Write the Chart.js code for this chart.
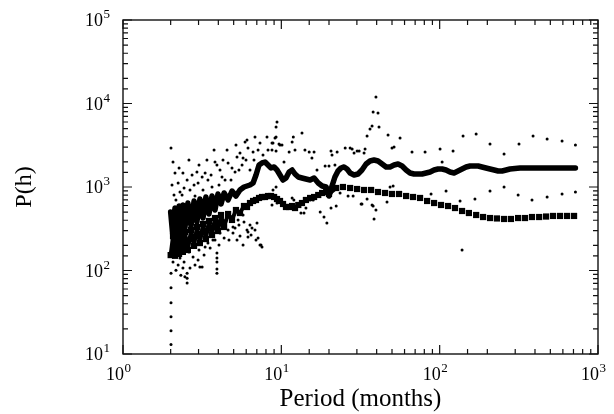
<!DOCTYPE html>
<html>
<head>
<meta charset="utf-8">
<script src="https://cdn.jsdelivr.net/npm/chart.js@4.4.1/dist/chart.umd.min.js"></script>
<style>
  html, body { margin: 0; padding: 0; background: #fff; }
  #wrap { width: 614px; height: 414px; }
</style>
</head>
<body>
<div id="wrap"><canvas id="spectrum" width="614" height="414"></canvas></div>
<script>
// thick solid curve
const upperPeriods = [2.0, 2.07, 2.13, 2.19, 2.26, 2.32, 2.39, 2.46, 2.57, 2.69, 2.81, 2.93, 3.06, 3.20, 3.34,
  3.49, 3.65, 3.81, 3.98, 4.16, 4.35, 4.61, 4.88, 5.17, 5.48, 5.81, 6.07, 6.34, 6.63, 6.92,
  7.23, 7.55, 7.89, 8.24, 8.61, 9.0, 9.39, 9.81, 10.25, 10.7, 11.2, 11.7, 12.2, 12.8, 13.5,
  14.3, 15.2, 16.1, 17.1, 18.1, 19.2, 20.0, 20.9, 21.8, 22.8, 23.8, 24.9, 26.0, 27.2, 28.8,
  30.5, 32.3, 34.3, 36.3, 38.5, 40.8, 43.3, 45.9, 48.6, 51.5, 54.6, 57.9, 61.4, 65.0, 68.9,
  73.1, 77.4, 82.1, 87.0, 92.2, 97.7, 103.6, 109.7, 116.3, 123.3, 130.7, 138.5, 146.9, 155.6, 165,
  175, 185, 196, 208, 221, 234, 248, 263, 278, 322, 372, 431, 498, 576, 720];
const upperValues = [502, 245, 560, 289, 592, 305, 609, 323, 643, 341, 680, 381, 718, 425, 759,
  475, 780, 530, 825, 626, 848, 699, 896, 780, 921, 1000, 1028, 1057, 1117, 1392,
  1835, 1939, 1993, 1835, 1689, 1737, 1598, 1392, 1213, 1282, 1512, 1598, 1431, 1318, 1282,
  1247, 1213, 1282, 1117, 1028, 1000, 780, 1028, 1318, 1555, 1689, 1737, 1643, 1472, 1392,
  1431, 1598, 1886, 2048, 2106, 2048, 1886, 1737, 1737, 1835, 1886, 1785, 1598, 1472, 1431,
  1431, 1431, 1472, 1512, 1598, 1643, 1643, 1598, 1512, 1472, 1555, 1643, 1737, 1785, 1785,
  1785, 1737, 1689, 1643, 1598, 1555, 1555, 1598, 1643, 1689, 1689, 1689, 1689, 1689, 1689];

// square-marker curve
const lowerPeriods = [2.0, 2.07, 2.13, 2.19, 2.26, 2.32, 2.39, 2.46, 2.57, 2.69, 2.81, 2.93, 3.06, 3.20, 3.34,
  3.49, 3.65, 3.81, 3.98, 4.16, 4.35, 4.61, 4.88, 5.17, 5.48, 5.81, 6.07, 6.34, 6.63, 6.92,
  7.23, 7.55, 7.89, 8.24, 8.61, 9.0, 9.39, 9.81, 10.25, 10.7, 11.2, 11.7, 12.2, 12.8, 13.5,
  14.3, 15.2, 16.1, 17.1, 18.1, 19.2, 20.0, 22.2, 24.5, 27.2, 30.1, 33.3, 36.9, 40.8, 45.2,
  50.0, 55.4, 61.4, 67.9, 75.2, 83.3, 92.2, 102, 113, 125, 138.5, 153, 170, 188, 208,
  230, 255, 282, 313, 346, 383, 425, 470, 520, 576, 638, 706];
const lowerValues = [153, 259, 150, 274, 158, 281, 167, 289, 176, 305, 197, 332, 213, 361, 238,
  392, 266, 425, 297, 462, 332, 475, 403, 530, 488, 592, 576, 643, 680, 699,
  739, 759, 759, 780, 780, 759, 718, 680, 626, 576, 576, 592, 560, 609, 643,
  699, 739, 759, 802, 848, 871, 825, 973, 1000, 973, 946, 921, 921, 871, 848,
  825, 825, 780, 759, 739, 680, 643, 609, 592, 560, 516, 488, 462, 437, 425,
  420, 414, 414, 425, 425, 437, 437, 443, 450, 450, 450, 450];

// scattered single estimates
const dotPeriods = [
  2.01, 2.07, 2.13, 2.23, 2.29, 2.39, 2.54, 2.73, 2.93, 2.98, 3.16, 3.30, 3.44, 3.65, 3.81,
  3.92, 4.10, 4.22, 4.41, 4.61, 4.88, 5.10, 5.25, 5.48, 5.73, 6.07, 6.16, 6.63, 6.82, 7.33,
  8.12, 8.73, 9.12, 9.81, 5.90, 2.16, 2.36, 2.50, 2.65, 2.85, 2.04, 2.19,
  2.10, 2.26, 2.43, 2.61, 2.81, 3.02, 3.20, 3.39, 3.60, 3.76, 4.04, 4.28, 4.54, 4.81, 5.17,
  5.40, 5.65, 5.98, 6.34, 6.72, 7.13, 7.66, 8.24,
  2.04, 2.13, 2.19, 2.07, 2.23, 2.39, 2.54, 2.46, 2.77, 2.98, 3.16, 3.30, 3.55, 3.92, 3.92,
  3.92, 3.81, 4.10, 4.41, 4.61, 4.95, 4.88, 5.33, 5.73, 6.34, 6.82, 7.13, 7.55, 6.07, 6.16,
  2.10, 2.29, 2.43, 2.61, 2.85, 3.02, 3.25, 3.44, 3.70, 4.04, 4.35, 4.67, 5.10, 5.40, 5.81,
  6.44, 6.92, 2.16, 2.32, 2.65,
  2.01, 2.01, 2.01, 2.01, 2.01, 2.01, 2.54, 2.54, 3.06, 3.92, 3.92, 7.33,
  4.95, 5.25, 5.48, 5.73, 6.16, 6.53, 7.02, 7.44,
  9.39, 9.26, 9.26, 8.86, 9.67, 10.1, 8.73, 9.26, 11.9, 11.7, 12.2, 11.2, 13.5, 14.1, 15.0,
  16.1, 15.6, 20.6, 22.5, 20.9, 25.3, 28.0, 31.0, 33.8, 28.8, 34.8, 36.3, 37.4, 38.0, 40.8,
  39.6, 41.4, 47.2,
  8.86, 9.26, 8.73, 9.39, 10.4, 11.7, 12.0, 13.3, 13.9, 14.3, 15.2, 15.9, 17.6, 18.6, 19.4,
  20.6, 22.2, 23.5, 26.4, 28.4, 31.9, 34.8, 37.4, 39.6, 38.5, 46.5, 16.8, 18.9, 20.0, 21.8,
  27.2, 30.1, 33.3, 50.0, 51.5, 56.2, 66.9, 80.9, 100.6, 121.5, 140.5, 170, 208, 255, 317,
  389, 477, 593, 720, 103.6,
  32.3, 38.0, 48.6, 50.8, 88.2, 109.7, 134.5, 167, 208, 255, 313, 383, 477, 593, 720, 138.5];
const dotValues = [
  2930, 1990, 1470, 1120, 870, 1470, 1210, 1390, 1510, 1120, 1320, 1470, 1210, 1000, 1990,
  1835, 1600, 1320, 1210, 1940, 1690, 1510, 2290, 2550, 2230, 3650, 2930, 2630, 3970, 3370,
  3970, 3370, 3860, 3180, 3460, 700, 800, 610, 920, 780, 1060, 530,
  802, 1689, 973, 2106, 1057, 1835, 921, 2106, 1392, 2774, 1057, 2106, 2774, 1213, 3184,
  1598, 1835, 2106, 1598, 2106, 2774, 2417, 2774,
  305, 252, 202, 126, 116, 107, 93, 84, 145, 134, 110, 191, 186, 162, 126,
  93, 232, 281, 371, 305, 332, 437, 403, 462, 351, 305, 245, 191, 305, 252,
  176, 141, 126, 167, 116, 176, 153, 213, 232, 202, 245, 232, 323, 351, 381,
  266, 232, 101, 88, 107,
  93, 62, 41, 28, 19, 13, 81, 71, 110, 141, 104, 202,
  281, 232, 259, 202, 289, 323, 371, 202,
  6000, 5230, 3970, 3370, 3270, 3180, 2770, 2700, 3970, 3460, 2770, 2630, 4430, 2770, 2630,
  2630, 2230, 2700, 2630, 2420, 2930, 2850, 2700, 2850, 2550, 4080, 4950, 5380, 7910, 7700,
  12000, 5230, 4200,
  921, 1000, 609, 643, 1990, 739, 699, 488, 488, 560, 699, 699, 502, 437, 371,
  560, 592, 848, 780, 780, 626, 718, 609, 530, 414, 661, 1600, 1785, 1785, 1835,
  2930, 2700, 2550, 2930, 3010, 3860, 2630, 2630, 2850, 2700, 4080, 4310, 3270, 2490, 3270,
  4080, 3760, 3560, 3180, 1990,
  626, 592, 1000, 1030, 825, 896, 680, 718, 896, 1000, 802, 699, 759, 825, 871, 176];

// decade tick labels, written as 10 with a raised exponent
const xDecades = [1, 10, 100, 1000];
const xExponents = ['0', '1', '2', '3'];
const yDecades = [10, 100, 1000, 10000, 100000];
const yExponents = ['1', '2', '3', '4', '5'];

const serif = '"Liberation Serif", "Times New Roman", "DejaVu Serif", serif';

function isDecade(v) {
  const e = Math.round(Math.log10(v));
  return Math.abs(Math.pow(10, e) - v) < 1e-6 * v;
}

function toPoints(xs, ys) {
  return xs.map((x, i) => ({ x: x, y: ys[i] }));
}

// inward ticks on all four sides, the box, and the 10^n labels
const boxTicks = {
  id: 'boxTicks',
  afterDraw(chart) {
    const { ctx, chartArea: a, scales } = chart;
    ctx.save();
    ctx.strokeStyle = '#111';
    ctx.lineWidth = 1.4;
    ctx.strokeRect(a.left, a.top, a.right - a.left, a.bottom - a.top);
    ctx.lineWidth = 1.2;
    ctx.beginPath();
    scales.x.ticks.forEach(t => {
      const px = scales.x.getPixelForValue(t.value);
      const len = isDecade(t.value) ? 9 : 5;
      ctx.moveTo(px, a.bottom); ctx.lineTo(px, a.bottom - len);
      ctx.moveTo(px, a.top); ctx.lineTo(px, a.top + len);
    });
    scales.y.ticks.forEach(t => {
      const py = scales.y.getPixelForValue(t.value);
      const len = isDecade(t.value) ? 9 : 5;
      ctx.moveTo(a.left, py); ctx.lineTo(a.left + len, py);
      ctx.moveTo(a.right, py); ctx.lineTo(a.right - len, py);
    });
    ctx.stroke();

    ctx.fillStyle = '#000';
    ctx.textBaseline = 'alphabetic';
    xDecades.forEach((v, i) => {
      const px = scales.x.getPixelForValue(v);
      ctx.font = '18px ' + serif;
      ctx.textAlign = 'right';
      ctx.fillText('10', px + 1, a.bottom + 26);
      ctx.font = '13px ' + serif;
      ctx.textAlign = 'left';
      ctx.fillText(xExponents[i], px + 1.5, a.bottom + 18);
    });
    yDecades.forEach((v, i) => {
      const py = scales.y.getPixelForValue(v);
      ctx.font = '18px ' + serif;
      ctx.textAlign = 'right';
      ctx.fillText('10', a.left - 20, py + 6);
      ctx.font = '13px ' + serif;
      ctx.textAlign = 'left';
      ctx.fillText(yExponents[i], a.left - 19.5, py - 2);
    });
    ctx.restore();
  }
};

const ctx = document.getElementById('spectrum').getContext('2d');
new Chart(ctx, {
  type: 'scatter',
  data: {
    datasets: [
      {
        label: 'estimates',
        data: toPoints(dotPeriods, dotValues),
        showLine: false,
        pointRadius: 1.5,
        pointBackgroundColor: '#000',
        pointBorderWidth: 0
      },
      {
        label: 'smoothed',
        data: toPoints(upperPeriods, upperValues),
        showLine: true,
        borderColor: '#000',
        borderWidth: 5.5,
        borderJoinStyle: 'round',
        borderCapStyle: 'round',
        pointRadius: 0,
        tension: 0
      },
      {
        label: 'average',
        data: toPoints(lowerPeriods, lowerValues),
        showLine: true,
        borderWidth: 4,
        borderColor: '#000',
        borderJoinStyle: 'round',
        segment: {
          // joined only where the squares crowd together
          borderColor: c => (c.p1.parsed.x <= 22.5 ? '#000' : 'rgba(0,0,0,0)')
        },
        pointStyle: 'rect',
        pointRadius: 4.4,
        pointBackgroundColor: '#000',
        pointBorderWidth: 0,
        tension: 0
      }
    ]
  },
  options: {
    responsive: false,
    animation: false,
    devicePixelRatio: 1,
    layout: { padding: { top: 20, right: 16, left: 0, bottom: 0 } },
    plugins: { legend: { display: false }, tooltip: { enabled: false } },
    scales: {
      x: {
        type: 'logarithmic',
        min: 1,
        max: 1000,
        grid: { display: false },
        border: { display: false },
        afterFit: s => { s.height = 60; },
        ticks: { display: false },
        title: {
          display: true,
          text: 'Period (months)',
          color: '#000',
          font: { family: serif, size: 25, lineHeight: 1 },
          padding: { top: 0, bottom: 2 }
        }
      },
      y: {
        type: 'logarithmic',
        min: 10,
        max: 100000,
        grid: { display: false },
        border: { display: false },
        afterFit: s => { s.width = 123; },
        ticks: { display: false },
        title: {
          display: true,
          text: 'P(h)',
          color: '#000',
          font: { family: serif, size: 24, lineHeight: 1 },
          padding: { top: 13, bottom: 0 }
        }
      }
    }
  },
  plugins: [boxTicks]
});
</script>
</body>
</html>
